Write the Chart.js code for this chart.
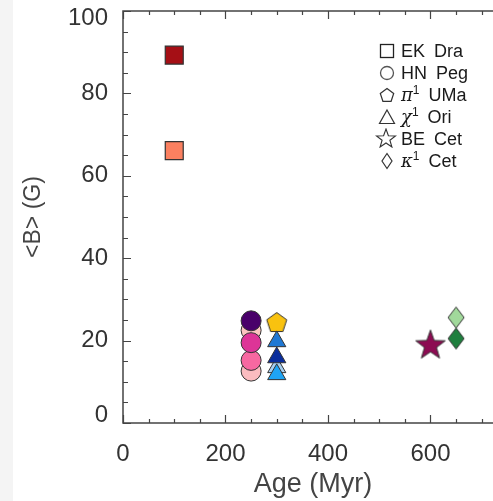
<!DOCTYPE html>
<html>
<head>
<meta charset="utf-8">
<script src="https://cdn.jsdelivr.net/npm/chart.js@4.4.0/dist/chart.umd.min.js"></script>
<style>
  html, body { margin: 0; padding: 0; }
  body { width: 493px; height: 501px; overflow: hidden; position: relative;
         background: linear-gradient(to right, #f4f4f4 13px, #ffffff 13px); }
  #c { position: absolute; left: 0; top: 0; }
  #legend { position: absolute; left: 377px; top: 40px; font-family: "Liberation Sans", Arial, sans-serif;
            font-size: 18px; color: #1a1a1a; word-spacing: 4px; }
  .row { height: 22px; line-height: 22px; white-space: nowrap; position: relative; }
  .row svg { position: absolute; left: 0; top: 2px; }
  .row span.t { position: absolute; left: 24px; top: 0; }
  .row sup { font-size: 12px; vertical-align: 0; position: relative; top: -7px; }
  .g { font-style: italic; font-family: "DejaVu Serif", serif; }
</style>
</head>
<body>
<canvas id="c" width="503" height="501"></canvas>
<div id="legend">
  <div class="row"><svg width="20" height="18"><rect x="3.5" y="2.5" width="13" height="13" fill="none" stroke="#222" stroke-width="1.3"/></svg><span class="t">EK Dra</span></div>
  <div class="row"><svg width="20" height="18"><circle cx="10" cy="9" r="6.5" fill="none" stroke="#555" stroke-width="1.3"/></svg><span class="t">HN Peg</span></div>
  <div class="row"><svg width="20" height="18"><polygon points="10,2.5 16.7,7.4 14.1,15.3 5.9,15.3 3.3,7.4" fill="none" stroke="#333" stroke-width="1.2"/></svg><span class="t"><span class="g">π</span><sup>1</sup> UMa</span></div>
  <div class="row"><svg width="20" height="18"><polygon points="10,2 17.5,15.5 2.5,15.5" fill="none" stroke="#333" stroke-width="1.2"/></svg><span class="t"><span class="g">χ</span><sup>1</sup> Ori</span></div>
  <div class="row"><svg width="22" height="20" style="left:-2px;top:0"><polygon points="11,1 13.4,7.7 20.5,7.9 14.9,12.2 16.9,19 11,15 5.1,19 7.1,12.2 1.5,7.9 8.6,7.7" fill="none" stroke="#333" stroke-width="1.1"/></svg><span class="t">BE Cet</span></div>
  <div class="row"><svg width="20" height="18"><polygon points="10,1.5 15,9 10,16.5 5,9" fill="none" stroke="#333" stroke-width="1.2"/></svg><span class="t"><span class="g">κ</span><sup>1</sup> Cet</span></div>
</div>
<script>
// ---- data ----
const ekDraAge = [100, 100];
const ekDraB = [89.3, 66.1];
const ekDraColors = ['#a50f15', '#fb8060'];

const hnPegAge = [250, 250, 250, 250, 250];
const hnPegB = [22.5, 12.6, 15.2, 19.5, 24.8];
const hnPegColors = ['#fcc5c0', '#fbbcc0', '#f768a1', '#dd3497', '#49006a'];

const piUMaAge = [300];
const piUMaB = [24.5];
const piUMaColors = ['#f9c20f'];

const chiOriAge = [300, 300, 300, 300];
const chiOriB = [13.5, 19.8, 15.9, 11.8];
const chiOriColors = ['#a6cff0', '#1f78d4', '#0a2d9c', '#1ea4f4'];

const beCetAge = [600];
const beCetB = [18.8];
const beCetColors = ['#8c0b52'];

const kapCetAge = [650, 650];
const kapCetB = [25.6, 20.5];
const kapCetColors = ['#a1d99b', '#1f7f3e'];

const xTickLabels = [0, 200, 400, 600];
const xMinorTicks = [0, 50, 100, 150, 200, 250, 300, 350, 400, 450, 500, 550, 600, 650, 700];
const yTickLabels = [0, 20, 40, 60, 80, 100];
const yMinorTicks = [0, 5, 10, 15, 20, 25, 30, 35, 40, 45, 50, 55, 60, 65, 70, 75, 80, 85, 90, 95, 100];

// ---- custom marker canvases ----
const EDGE = '#333333';
function mk(w, h, drawPath, fill) {
  const c = document.createElement('canvas');
  c.width = w; c.height = h;
  const ctx = c.getContext('2d');
  ctx.beginPath();
  drawPath(ctx, w, h);
  ctx.closePath();
  ctx.fillStyle = fill; ctx.fill();
  ctx.lineWidth = 1; ctx.strokeStyle = EDGE; ctx.stroke();
  return c;
}
function pentagon(fill) {
  return mk(24, 24, (ctx, w, h) => {
    const R = 10.5, cx = w / 2, cy = h / 2 + 1;
    for (let i = 0; i < 5; i++) {
      const a = -Math.PI / 2 + i * 2 * Math.PI / 5;
      const px = cx + R * Math.cos(a), py = cy + R * Math.sin(a);
      i ? ctx.lineTo(px, py) : ctx.moveTo(px, py);
    }
  }, fill);
}
function star(fill) {
  return mk(36, 36, (ctx, w, h) => {
    const R = 15.5, r = 6.3, cx = w / 2, cy = h / 2;
    for (let i = 0; i < 10; i++) {
      const a = -Math.PI / 2 + i * Math.PI / 5;
      const rr = i % 2 ? r : R;
      const px = cx + rr * Math.cos(a), py = cy + rr * Math.sin(a);
      i ? ctx.lineTo(px, py) : ctx.moveTo(px, py);
    }
  }, fill);
}
function diamond(fill) {
  return mk(20, 26, (ctx, w, h) => {
    const cx = w / 2, cy = h / 2, hw = 8, hh = 10.5;
    ctx.moveTo(cx, cy - hh); ctx.lineTo(cx + hw, cy); ctx.lineTo(cx, cy + hh); ctx.lineTo(cx - hw, cy);
  }, fill);
}

function pts(xs, ys) { return xs.map((x, i) => ({ x: x, y: ys[i] })); }

// ---- axes / inward ticks plugin ----
const frame = {
  id: 'frame',
  beforeDatasetsDraw(chart) {
    const { ctx, chartArea: a, scales } = chart;
    const xs = scales.x, ys = scales.y;
    ctx.save();
    ctx.strokeStyle = '#444';
    ctx.lineWidth = 1.5;
    ctx.beginPath();
    ctx.moveTo(a.right + 2, a.top); ctx.lineTo(a.left, a.top);
    ctx.lineTo(a.left, a.bottom); ctx.lineTo(a.right + 2, a.bottom);
    ctx.stroke();
    ctx.lineWidth = 1.2;
    ctx.beginPath();
    xMinorTicks.forEach(v => {
      const px = Math.round(xs.getPixelForValue(v)) + 0.5;
      const len = xTickLabels.includes(v) ? 8 : 4;
      ctx.moveTo(px, a.bottom); ctx.lineTo(px, a.bottom - len);
      ctx.moveTo(px, a.top); ctx.lineTo(px, a.top + len);
    });
    yMinorTicks.forEach(v => {
      const py = Math.round(ys.getPixelForValue(v)) + 0.5;
      const len = yTickLabels.includes(v) ? 8 : 5;
      ctx.moveTo(a.left, py); ctx.lineTo(a.left + len, py);
    });
    ctx.stroke();
    ctx.restore();
  }
};

const FAMILY = '"Liberation Sans", Arial, sans-serif';
const tickFont = { family: FAMILY, size: 24 };
const xTitleFont = { family: FAMILY, size: 27 };
const yTitleFont = { family: FAMILY, size: 23 };
const yMin = yTickLabels[0], yMax = yTickLabels[yTickLabels.length - 1];

new Chart(document.getElementById('c'), {
  type: 'scatter',
  data: {
    datasets: [
      { label: 'κ1 Cet', data: pts(kapCetAge, kapCetB), pointStyle: kapCetColors.map(diamond), order: 1 },
      { label: 'BE Cet', data: pts(beCetAge, beCetB), pointStyle: beCetColors.map(star), order: 2 },
      { label: 'χ1 Ori', data: pts(chiOriAge, chiOriB), pointStyle: 'triangle', pointRadius: 10.5,
        backgroundColor: chiOriColors, borderColor: EDGE, borderWidth: 1, order: 3 },
      { label: 'π1 UMa', data: pts(piUMaAge, piUMaB), pointStyle: piUMaColors.map(pentagon), order: 4 },
      { label: 'HN Peg', data: pts(hnPegAge, hnPegB), pointStyle: 'circle', pointRadius: 10,
        backgroundColor: hnPegColors, borderColor: EDGE, borderWidth: 1, order: 5 },
      { label: 'EK Dra', data: pts(ekDraAge, ekDraB), pointStyle: 'rect', pointRadius: 12.7,
        backgroundColor: ekDraColors, borderColor: EDGE, borderWidth: 1.2, order: 6 }
    ]
  },
  options: {
    responsive: false,
    animation: false,
    devicePixelRatio: 1,
    layout: { autoPadding: false, padding: { left: 0, right: 0, top: 11, bottom: 0 } },
    plugins: { legend: { display: false }, tooltip: { enabled: false } },
    elements: { point: { hoverRadius: 0 } },
    scales: {
      x: {
        type: 'linear', min: 0, max: 741.5,
        grid: { display: false, tickLength: 0 }, border: { display: false },
        afterBuildTicks: s => { s.ticks = xTickLabels.map(v => ({ value: v })); },
        afterFit: s => { s.height = 78; s.paddingLeft = 0; s.paddingRight = 0; },
        ticks: { font: tickFont, color: '#333', padding: 17, autoSkip: false, maxRotation: 0 },
        title: { display: true, text: 'Age (Myr)', color: '#444', font: xTitleFont, padding: { top: 0, bottom: 0 } }
      },
      y: {
        min: yMin, max: yMax,
        grid: { display: false, tickLength: 0 }, border: { display: false },
        afterBuildTicks: s => { s.ticks = yTickLabels.map(v => ({ value: v })); },
        afterFit: s => { s.width = 123; s.paddingTop = 0; s.paddingBottom = 0; },
        ticks: {
          color: '#333', padding: 15, autoSkip: false,
          font: c => ({ family: FAMILY, size: 24,
                        lineHeight: (c.tick && (c.tick.value === yMin || c.tick.value === yMax)) ? 0.6 : 1.2 }),
          callback: v => v === yMax ? ['', String(v)] : (v === yMin ? [String(v), ''] : String(v))
        },
        title: { display: true, text: '<B> (G)', color: '#444', font: yTitleFont, padding: { top: 20, bottom: 0 } }
      }
    }
  },
  plugins: [frame]
});
</script>
</body>
</html>
